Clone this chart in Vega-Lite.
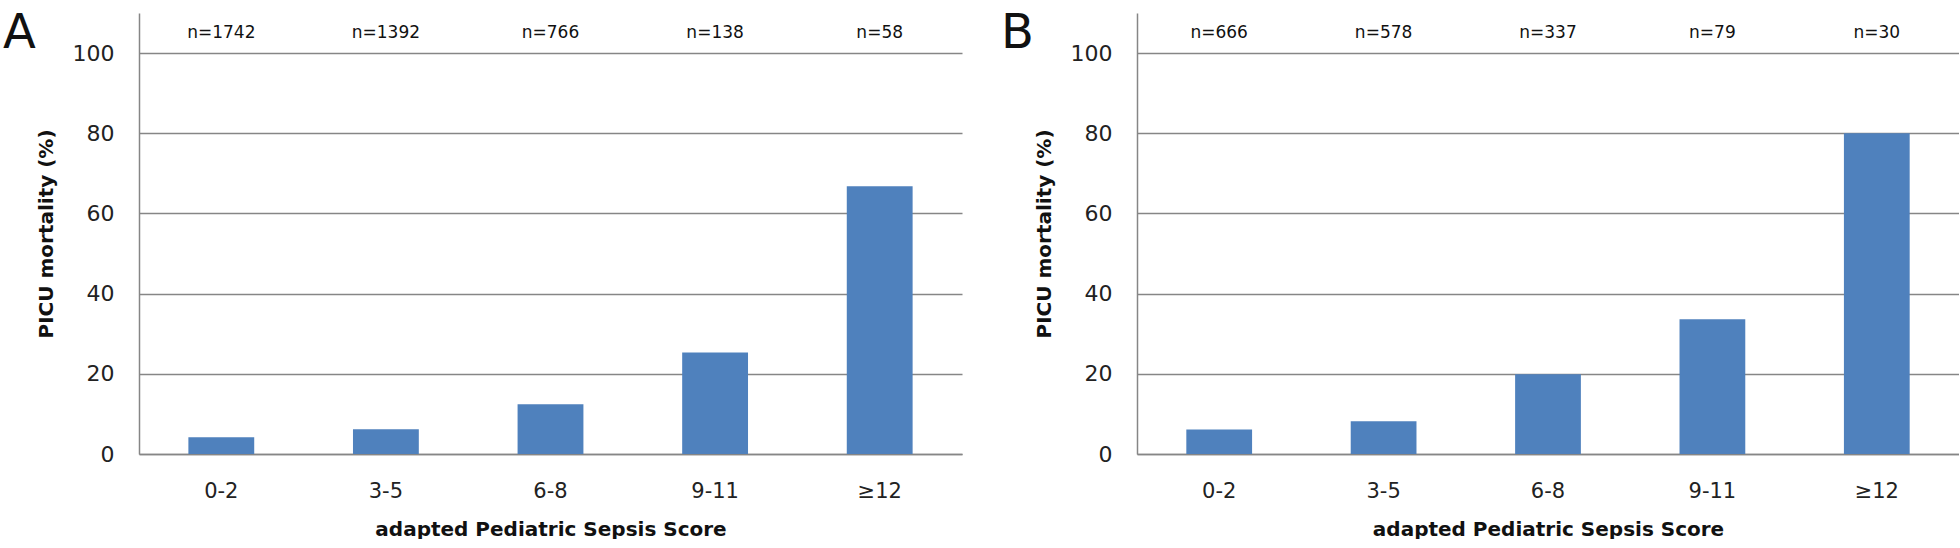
{
  "$schema": "https://vega.github.io/schema/vega-lite/v6.json",
  "padding": {"left": 3, "top": 10, "right": 0, "bottom": 0},
  "autosize": {"type": "pad"},
  "spacing": 39,
  "background": "white",
  "config": {
    "font": "DejaVu Sans",
    "view": {"stroke": null},
    "axis": {
      "domainColor": "#868686",
      "domainWidth": 1.5,
      "gridColor": "#868686",
      "gridWidth": 1.5,
      "ticks": false,
      "labelColor": "#222222",
      "titleColor": "#111111",
      "labelFont": "DejaVu Sans",
      "titleFont": "DejaVu Sans"
    },
    "title": {"font": "DejaVu Sans", "fontWeight": "normal", "fontSize": 48, "color": "#111111", "anchor": "start", "frame": "bounds"}
  },
  "datasets": {
    "panelA": [
      {"score": "0-2", "mortality": 4.2, "label": "n=1742"},
      {"score": "3-5", "mortality": 6.2, "label": "n=1392"},
      {"score": "6-8", "mortality": 12.4, "label": "n=766"},
      {"score": "9-11", "mortality": 25.3, "label": "n=138"},
      {"score": "≥12", "mortality": 66.8, "label": "n=58"}
    ],
    "panelB": [
      {"score": "0-2", "mortality": 6.1, "label": "n=666"},
      {"score": "3-5", "mortality": 8.2, "label": "n=578"},
      {"score": "6-8", "mortality": 19.9, "label": "n=337"},
      {"score": "9-11", "mortality": 33.6, "label": "n=79"},
      {"score": "≥12", "mortality": 80, "label": "n=30"}
    ]
  },
  "hconcat": [
    {
      "width": 823,
      "height": 441,
      "title": {"text": "A", "offset": -45, "dx": -33},
      "data": {"name": "panelA"},
      "layer": [
        {
          "mark": {"type": "bar", "color": "#4F81BD"},
          "encoding": {
            "x": {"field": "score", "type": "nominal", "sort": null,
              "scale": {"paddingInner": 0.6, "paddingOuter": 0.3},
              "axis": {"title": "adapted Pediatric Sepsis Score", "labelAngle": 0, "labelFontSize": 21, "labelPadding": 26, "titleFontSize": 20, "titleFontWeight": "bold", "titlePadding": 18}},
            "y": {"field": "mortality", "type": "quantitative",
              "scale": {"domain": [0, 110], "nice": false},
              "axis": {"title": "PICU mortality (%)", "values": [0, 20, 40, 60, 80, 100], "labelFontSize": 22, "labelPadding": 25, "titleFontSize": 20, "titleFontWeight": "bold", "titlePadding": 16}}
          }
        },
        {
          "mark": {"type": "text", "fontSize": 17, "color": "#111111", "font": "DejaVu Sans"},
          "encoding": {
            "x": {"field": "score", "type": "nominal", "sort": null},
            "y": {"datum": 105},
            "text": {"field": "label"}
          }
        }
      ]
    },
    {
      "width": 822,
      "height": 441,
      "title": {"text": "B", "offset": -45, "dx": -33},
      "data": {"name": "panelB"},
      "layer": [
        {
          "mark": {"type": "bar", "color": "#4F81BD"},
          "encoding": {
            "x": {"field": "score", "type": "nominal", "sort": null,
              "scale": {"paddingInner": 0.6, "paddingOuter": 0.3},
              "axis": {"title": "adapted Pediatric Sepsis Score", "labelAngle": 0, "labelFontSize": 21, "labelPadding": 26, "titleFontSize": 20, "titleFontWeight": "bold", "titlePadding": 18}},
            "y": {"field": "mortality", "type": "quantitative",
              "scale": {"domain": [0, 110], "nice": false},
              "axis": {"title": "PICU mortality (%)", "values": [0, 20, 40, 60, 80, 100], "labelFontSize": 22, "labelPadding": 25, "titleFontSize": 20, "titleFontWeight": "bold", "titlePadding": 16}}
          }
        },
        {
          "mark": {"type": "text", "fontSize": 17, "color": "#111111", "font": "DejaVu Sans"},
          "encoding": {
            "x": {"field": "score", "type": "nominal", "sort": null},
            "y": {"datum": 105},
            "text": {"field": "label"}
          }
        }
      ]
    }
  ]
}
